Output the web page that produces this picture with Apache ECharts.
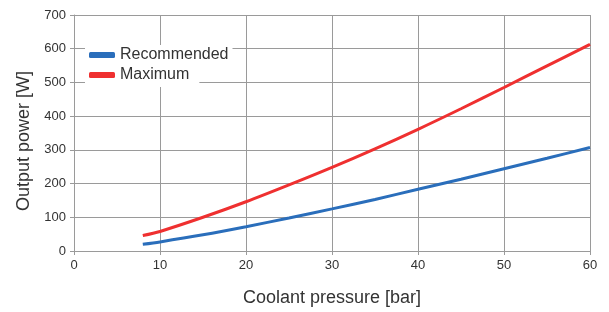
<!DOCTYPE html>
<html>
<head>
<meta charset="utf-8">
<script src="https://cdn.jsdelivr.net/npm/echarts@6/dist/echarts.min.js"></script>
<style>
  html, body { margin: 0; padding: 0; background: #fff; }
  #main { width: 609px; height: 312px; }
</style>
</head>
<body>
<div id="main"></div>
<script>
var pressure = [8, 10, 15, 20, 25, 30, 35, 40, 45, 50, 55, 60];
var recommended = [20, 27, 48, 72, 98, 125, 153, 183, 213, 244, 275, 307];
var maximum = [46, 58, 100, 146, 196, 248, 303, 361, 422, 485, 549, 613];
var seriesNames = ['Recommended', 'Maximum'];

function pairs(xs, ys) {
    return xs.map(function (x, i) { return [x, ys[i]]; });
}

var myChart = echarts.init(document.getElementById('main'));
var gridColor = '#9a9a9a';
var font = '"Liberation Sans", Arial, sans-serif';

// one legend per row so each gets its own white box (like the original)
function legendRow(name, top, padding) {
    return {
        data: [name],
        orient: 'vertical',
        left: 85,
        top: top,
        padding: padding,
        itemWidth: 26,
        itemHeight: 6,
        icon: 'roundRect',
        backgroundColor: '#fff',
        textStyle: { fontSize: 16, color: '#333', fontFamily: font, lineHeight: 16 }
    };
}

myChart.setOption({
    animation: false,
    textStyle: { fontFamily: font },
    grid: { left: 74, right: 19, top: 15, bottom: 59 },
    legend: [
        legendRow(seriesNames[0], 45, [2, 4, 2, 4]),
        legendRow(seriesNames[1], 65, [2, 10, 4, 4])
    ],
    xAxis: {
        type: 'value',
        min: 0,
        max: 60,
        interval: 10,
        name: 'Coolant pressure [bar]',
        nameLocation: 'middle',
        nameGap: 38,
        nameTextStyle: { fontSize: 18, color: '#333', fontFamily: font },
        axisLine: { show: true, lineStyle: { color: gridColor, width: 1 } },
        axisTick: { show: true, length: 4, lineStyle: { color: gridColor } },
        axisLabel: { fontSize: 13, color: '#333', margin: 8 },
        splitLine: { show: true, lineStyle: { color: gridColor, width: 1 } }
    },
    yAxis: {
        type: 'value',
        min: 0,
        max: 700,
        interval: 100,
        name: 'Output power [W]',
        nameLocation: 'middle',
        nameGap: 40,
        nameTextStyle: { fontSize: 18, color: '#333', fontFamily: font, padding: [0, 16, 0, 0] },
        axisLine: { show: true, lineStyle: { color: gridColor, width: 1 } },
        axisTick: { show: true, length: 4, lineStyle: { color: gridColor } },
        axisLabel: { fontSize: 13, color: '#333', margin: 8 },
        splitLine: { show: true, lineStyle: { color: gridColor, width: 1 } }
    },
    series: [
        {
            name: seriesNames[0],
            type: 'line',
            smooth: 0.3,
            symbol: 'none',
            data: pairs(pressure, recommended),
            itemStyle: { color: '#2a6ebb' },
            lineStyle: { color: '#2a6ebb', width: 3 }
        },
        {
            name: seriesNames[1],
            type: 'line',
            smooth: 0.3,
            symbol: 'none',
            data: pairs(pressure, maximum),
            itemStyle: { color: '#ef3030' },
            lineStyle: { color: '#ef3030', width: 3 }
        }
    ]
});
</script>
</body>
</html>
